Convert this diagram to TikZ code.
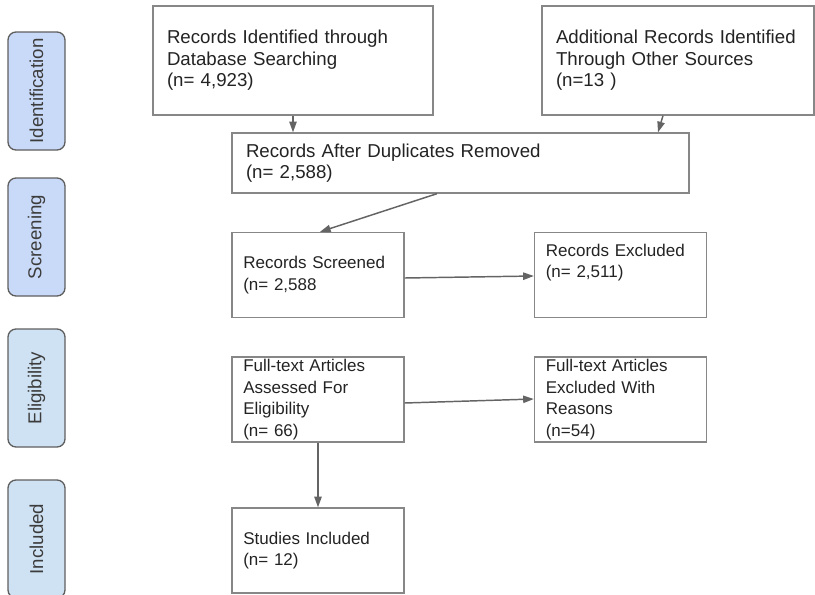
\documentclass[tikz,border=0pt]{standalone}
\usepackage{fontspec}
\setmainfont{Liberation Sans}
\usetikzlibrary{arrows.meta,calc}
\definecolor{boxgray}{RGB}{135,135,135}
\definecolor{arrowgray}{RGB}{100,100,100}
\definecolor{stagegray}{RGB}{95,95,95}
\definecolor{stagetext}{RGB}{60,60,60}
\definecolor{boxtext}{RGB}{35,35,35}
\definecolor{stageblueA}{RGB}{201,218,248}
\definecolor{stageblueB}{RGB}{207,226,243}
\begin{document}
\begin{tikzpicture}[x=0.75pt, y=-0.75pt,
  stage/.style={draw=stagegray, line width=1pt, rounded corners=6pt, rotate=90,
    minimum width=88.5pt, minimum height=42.75pt,
    font=\fontsize{14}{16}\selectfont, text=stagetext},
  bigbox/.style={draw=boxgray, line width=1pt, inner xsep=10.5pt, inner ysep=0pt,
    align=left, font=\fontsize{14}{16.2}\selectfont, text=boxtext},
  smallbox/.style={draw=boxgray, line width=1pt, inner xsep=8.5pt, inner ysep=0pt,
    text width=112pt, minimum height=63.75pt, align=left,
    font=\fontsize{12.75}{16.2}\selectfont, text=boxtext},
  arr/.style={draw=arrowgray, line width=1.1pt, -{Triangle[length=8pt,width=5.5pt]}}]
    \useasboundingbox (0, 0) rectangle (815, 594);

    % 段階
    \node[stage, fill=stageblueA] (ident) at (36.5, 91) {Identification};
    \node[stage, fill=stageblueA] (screen) at (36.5, 237) {Screening};
    \node[stage, fill=stageblueB] (elig) at (36.5, 388) {Eligibility};
    \node[stage, fill=stageblueB] (incl) at (36.5, 539) {Included};

    % 箱
    \node[bigbox, text width=189pt, minimum height=81.75pt] (db) at (293, 60.5) {Records Identified through\\Database Searching\\(n= 4,923)};
    \node[bigbox, text width=183pt, minimum height=81.75pt] (other) at (678, 60.5) {Additional Records Identified\\Through Other Sources\\(n=13 )};
    \node[bigbox, text width=321.75pt, minimum height=45pt] (dup) at (460.5, 163) {Records After Duplicates Removed\\(n= 2,588)};
    \node[smallbox] (screened) at (318, 275) {Records Screened\\(n= 2,588};
    \node[smallbox] (excluded) at (620.5, 275) {Records Excluded\\(n= 2,511)\\ \strut};
    \node[smallbox] (assessed) at (318, 399.5) {Full-text Articles\\Assessed For\\Eligibility\\(n= 66)};
    \node[smallbox] (reasons) at (620.5, 399.5) {Full-text Articles\\Excluded With\\Reasons\\(n=54)};
    \node[smallbox] (included) at (318, 550.5) {Studies Included\\(n= 12)};

    % 矢印
    \draw[arr] (db.south) -- (db.south |- dup.north);
    \draw[arr] ($(other.south)+(-15,0)$) -- ($(dup.north)+(197.5,0)$);
    \draw[arr] ($(dup.south)+(-23.5,0)$) -- ($(screened.north)+(2,0)$);
    \draw[arr] ($(screened.east)+(0,3)$) -- ($(excluded.west)+(0,1)$);
    \draw[arr] ($(assessed.east)+(0,3.5)$) -- ($(reasons.west)+(0,-0.5)$);
    \draw[arr] (assessed.south) -- (included.north);
  \end{tikzpicture}
\end{document}
